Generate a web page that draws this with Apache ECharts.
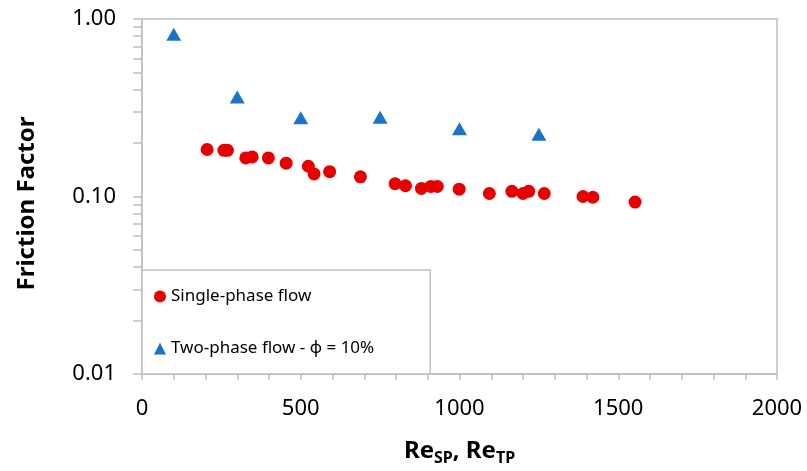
<!DOCTYPE html>
<html>
<head>
<meta charset="utf-8">
<title>Friction factor</title>
<script src="https://cdn.jsdelivr.net/npm/echarts@6/dist/echarts.min.js"></script>
<style>
  body { margin: 0; background: #fff; }
  #main { width: 807px; height: 471px; }
</style>
</head>
<body>
<div id="main"></div>
<script>
// single-phase points (Re, f)
var spRe = [205, 258, 269, 327, 347, 398, 454, 524, 542, 591, 688, 797, 830, 880, 910, 930, 999, 1094, 1165, 1200, 1218, 1267, 1389, 1420, 1553];
var spF  = [0.184, 0.182, 0.182, 0.165, 0.167, 0.165, 0.154, 0.148, 0.134, 0.138, 0.129, 0.118, 0.115, 0.111, 0.114, 0.114, 0.110, 0.104, 0.107, 0.104, 0.107, 0.104, 0.100, 0.099, 0.093];
// two-phase points
var tpRe = [100, 300, 500, 750, 1000, 1250];
var tpF  = [0.82, 0.364, 0.278, 0.28, 0.241, 0.224];

var seriesNames = ['Single-phase flow', 'Two-phase flow - \u03d5 = 10%'];

function pairs(xs, ys) {
  return xs.map(function (x, i) { return [x, ys[i]]; });
}

var font = 'Noto Sans';
var grey = '#bfbfbf';

var chart = echarts.init(document.getElementById('main'));
chart.setOption({
  animation: false,
  textStyle: { fontFamily: font },
  grid: {
    left: 142, right: 30, top: 19, bottom: 97,
    show: true, borderColor: grey, borderWidth: 1.5
  },
  legend: {
    orient: 'vertical',
    left: 142, bottom: 97,
    padding: [18, 56, 17, 12],
    itemGap: 35,
    itemWidth: 12, itemHeight: 12,
    backgroundColor: '#fff',
    borderColor: grey, borderWidth: 1.5,
    textStyle: { fontSize: 17, color: '#000', fontFamily: font },
    data: [
      { name: seriesNames[0], icon: 'circle' },
      { name: seriesNames[1], icon: 'triangle' }
    ]
  },
  xAxis: {
    type: 'value',
    min: 0, max: 2000, interval: 500,
    name: '{a|Re}{b|SP}{a|, Re}{b|TP}',
    nameLocation: 'middle',
    nameGap: 62,
    nameTextStyle: {
      rich: {
        a: { fontSize: 24, fontWeight: 'bold', color: '#000', fontFamily: font },
        b: { fontSize: 16, fontWeight: 'bold', color: '#000', fontFamily: font, padding: [14, 0, 0, 0] }
      }
    },
    axisLine: { show: true, lineStyle: { color: grey, width: 1.5 } },
    axisTick: { show: true, length: 6, lineStyle: { color: grey, width: 1.5 } },
    minorTick: { show: true, splitNumber: 5, length: 6, lineStyle: { color: grey, width: 1.5 } },
    splitLine: { show: false },
    axisLabel: {
      fontSize: 22, color: '#000', margin: 24,
      formatter: function (v) { return String(v); }
    }
  },
  yAxis: {
    type: 'log',
    logBase: 10,
    min: 0.01, max: 1,
    name: 'Friction Factor',
    nameLocation: 'middle',
    nameGap: 103,
    nameTextStyle: { fontSize: 24, fontWeight: 'bold', color: '#000', padding: [0, 14, 0, 0] },
    axisLine: { show: true, lineStyle: { color: grey, width: 1.5 } },
    axisTick: { show: true, length: 9, lineStyle: { color: grey, width: 1.5 } },
    minorTick: { show: true, splitNumber: 9, length: 9, lineStyle: { color: grey, width: 1.5 } },
    splitLine: { show: false },
    axisLabel: {
      fontSize: 22, color: '#000', margin: 26,
      formatter: function (v) { return v.toFixed(2); }
    }
  },
  series: [
    {
      name: seriesNames[0],
      type: 'scatter',
      symbol: 'circle',
      symbolSize: 13,
      itemStyle: { color: '#e60000', opacity: 1 },
      data: pairs(spRe, spF)
    },
    {
      name: seriesNames[1],
      type: 'scatter',
      symbol: 'triangle',
      symbolSize: [15, 13],
      itemStyle: { color: '#1a75c9', opacity: 1 },
      data: pairs(tpRe, tpF)
    }
  ]
});
</script>
</body>
</html>
